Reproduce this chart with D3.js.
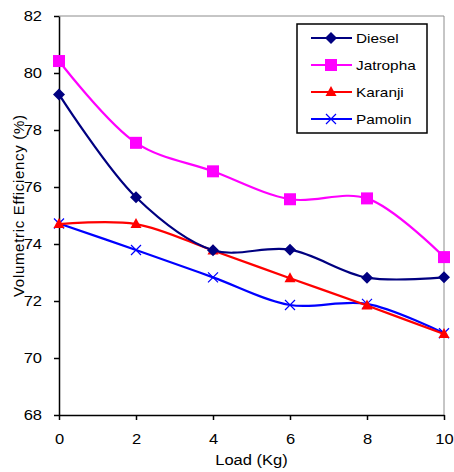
<!DOCTYPE html>
<html>
<head>
<meta charset="utf-8">
<script src="https://cdn.jsdelivr.net/npm/d3@7"></script>
<style>
  body { margin: 0; background: #fff; }
  text { font-family: "Liberation Sans", Arial, sans-serif; fill: #000; }
  .tick text { font-size: 14px; }
</style>
</head>
<body>
<div id="chart"></div>
<script>
const loads = [0, 2, 4, 6, 8, 10]
const diesel = [79.25, 75.64, 73.78, 73.8, 72.82, 72.83]
const jatropha = [80.42, 77.55, 76.55, 75.57, 75.6, 73.54]
const karanji = [74.7, 74.7, 73.77, 72.8, 71.84, 70.84]
const pamolin = [74.72, 73.79, 72.83, 71.86, 71.9, 70.87]
const seriesNames = ["Diesel", "Jatropha", "Karanji", "Pamolin"]
const xTicks = [0, 2, 4, 6, 8, 10]
const yTicks = [68, 70, 72, 74, 76, 78, 80, 82]

const series = [
  {name: seriesNames[0], values: diesel, color: "#000080", shape: "diamond"},
  {name: seriesNames[1], values: jatropha, color: "#ff00ff", shape: "square"},
  {name: seriesNames[2], values: karanji, color: "#ff0000", shape: "triangle"},
  {name: seriesNames[3], values: pamolin, color: "#0000ff", shape: "cross"}
]

var width = 454, height = 472
var margin = {left: 59, right: 10, top: 16, bottom: 57}

var svg = d3.select("#chart").append("svg")
    .attr("width", width)
    .attr("height", height)

var x = d3.scaleLinear().domain([0, 10]).range([margin.left, width - margin.right])
var y = d3.scaleLinear().domain([68, 82]).range([height - margin.bottom, margin.top])

// grey frame top and right
svg.append("path")
    .attr("d", `M${x(0)},${y(82)}H${x(10)}V${y(68)}`)
    .attr("fill", "none")
    .attr("stroke", "#8c8c8c")
    .attr("stroke-width", 1)

svg.append("g")
    .attr("transform", `translate(0,${y(68)})`)
    .call(d3.axisBottom(x).tickValues(xTicks).tickSize(5).tickSizeOuter(0).tickPadding(14))
svg.append("g")
    .attr("transform", `translate(${x(0)},0)`)
    .call(d3.axisLeft(y).tickValues(yTicks).tickSize(5).tickSizeOuter(0).tickPadding(12))

svg.selectAll(".domain, .tick line").attr("stroke", "#000").attr("stroke-width", 1.5)
svg.selectAll(".tick text").classed("wide", true)

svg.append("text")
    .attr("class", "wide")
    .attr("x", (x(0) + x(10)) / 2)
    .attr("y", 465)
    .attr("text-anchor", "middle")
    .style("font-size", "14px")
    .text("Load (Kg)")

svg.append("text")
    .attr("transform", "translate(24,206) rotate(-90)")
    .attr("text-anchor", "middle")
    .attr("textLength", 182)
    .attr("lengthAdjust", "spacing")
    .style("font-size", "15px")
    .text("Volumetric Efficiency (%)")

var line = d3.line()
    .x((d, i) => x(loads[i]))
    .y(d => y(d))
    .curve(d3.curveCatmullRom.alpha(0.5))

function marker(g, shape, color) {
  if (shape == "diamond") {
    g.append("path").attr("d", "M0,-6L6,0L0,6L-6,0Z").attr("fill", color)
  } else if (shape == "square") {
    g.append("rect").attr("x", -6).attr("y", -6).attr("width", 12).attr("height", 12).attr("fill", color)
  } else if (shape == "triangle") {
    g.append("path").attr("d", "M0,-6L5.5,4L-5.5,4Z").attr("fill", color)
  } else {
    g.append("path").attr("d", "M-5,-5L5,5M-5,5L5,-5").attr("stroke", color).attr("stroke-width", 1.2).attr("fill", "none")
  }
}

// draw in reverse so Diesel ends on top
series.slice().reverse().forEach(function(s) {
  svg.append("path")
      .datum(s.values)
      .attr("fill", "none")
      .attr("stroke", s.color)
      .attr("stroke-width", 2.2)
      .attr("d", line)

  s.values.forEach(function(v, i) {
    var g = svg.append("g").attr("transform", `translate(${x(loads[i])},${y(v)})`)
    marker(g, s.shape, s.color)
  })
})

// legend
var legend = svg.append("g").attr("transform", "translate(297,24)")
legend.append("rect")
    .attr("width", 130)
    .attr("height", 109)
    .attr("fill", "#fff")
    .attr("stroke", "#000")
    .attr("stroke-width", 1.5)

series.forEach(function(s, i) {
  var row = legend.append("g").attr("transform", `translate(0,${14 + i * 27})`)
  row.append("line")
      .attr("x1", 14).attr("x2", 55)
      .attr("stroke", s.color)
      .attr("stroke-width", 2)
  var m = row.append("g").attr("transform", "translate(34,0)")
  marker(m, s.shape, s.color)
  row.append("text")
      .attr("class", "wide")
      .attr("x", 59)
      .attr("y", 5)
      .style("font-size", "13px")
      .text(s.name)
})

// the source picture is a bit stretched sideways, so widen the horizontal text
svg.selectAll("text.wide").each(function() {
  var len = this.getComputedTextLength()
  d3.select(this)
    .attr("textLength", len * 1.18)
    .attr("lengthAdjust", "spacingAndGlyphs")
})
</script>
</body>
</html>
